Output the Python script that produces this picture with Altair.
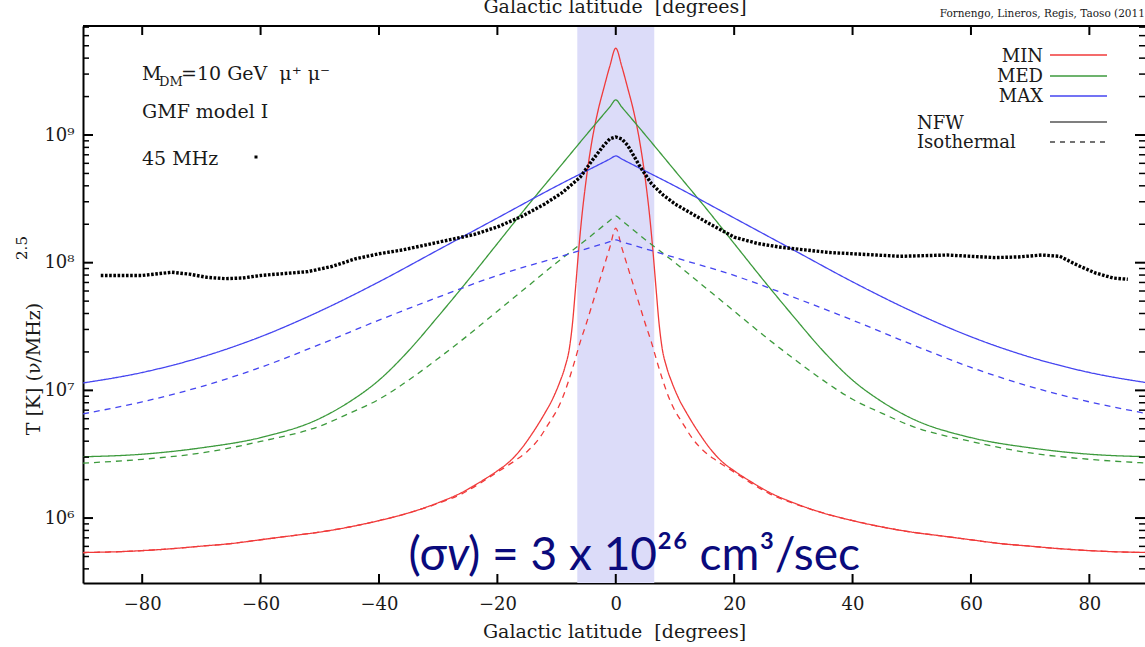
import altair as alt
import pandas as pd

# ---------------- data ----------------
# symmetric model curves: b >= 0 side, values are log10(T)
b_min_nfw = [0, 1, 2, 3, 4, 5, 5.8, 6.3, 6.8, 7.3, 7.8, 8.6, 9.5, 10.7, 12, 14, 16, 18, 20, 23, 26, 30,
             35, 40, 45, 50, 55, 60, 65, 70, 75, 80, 85, 90]
l_min_nfw = [9.68, 9.54, 9.37, 9.19, 8.96, 8.65, 8.33, 8.08, 7.80, 7.53, 7.34, 7.18, 7.06, 6.93, 6.82, 6.67,
             6.54, 6.44, 6.37, 6.28, 6.20, 6.12, 6.04, 5.98, 5.93, 5.89, 5.86, 5.83, 5.80, 5.78, 5.76, 5.745,
             5.735, 5.73]
b_min_iso = [0, 1, 2, 3, 4, 5, 6, 7, 8, 9, 10, 11.2, 13, 15, 17, 20, 23, 26, 30, 35, 40, 45, 50, 55, 60,
             65, 70, 75, 80, 85, 90]
l_min_iso = [8.27, 8.12, 7.97, 7.82, 7.67, 7.52, 7.38, 7.22, 7.07, 6.94, 6.84, 6.75, 6.62, 6.52, 6.45, 6.36,
             6.27, 6.19, 6.115, 6.04, 5.98, 5.93, 5.89, 5.86, 5.83, 5.80, 5.78, 5.76, 5.745, 5.735, 5.73]
b_med = [0, 1, 5, 10, 15, 20, 25, 30, 35, 40, 45, 50, 60, 70, 80, 90]
l_med_nfw = [9.275, 9.22, 9.0, 8.72, 8.44, 8.15, 7.86, 7.58, 7.31, 7.08, 6.91, 6.78, 6.63, 6.55, 6.50, 6.48]
l_med_iso = [8.366, 8.33, 8.18, 8.0, 7.81, 7.62, 7.43, 7.25, 7.08, 6.93, 6.82, 6.72, 6.60, 6.51, 6.46, 6.43]
b_max = [0, 1, 10, 20, 30, 40, 50, 60, 70, 80, 90]
l_max_nfw = [8.836, 8.812, 8.60, 8.35, 8.10, 7.85, 7.62, 7.42, 7.26, 7.14, 7.058]
l_max_iso = [8.178, 8.164, 8.04, 7.90, 7.73, 7.55, 7.36, 7.18, 7.03, 6.91, 6.816]

# 45 MHz data
b_obs = [-87, -84, -80, -77, -75, -72, -69, -66, -63, -60, -56, -52, -48, -44, -40, -36, -32, -28, -24,
         -20, -16, -12, -9, -6, -4, -2, -1, 0, 1, 2, 4, 6, 8, 10, 13, 16, 20, 24, 28, 32, 36, 40, 44, 48,
         52, 56, 60, 64, 68, 72, 75, 78, 81, 84, 86.5]
l_obs = [7.90, 7.90, 7.90, 7.915, 7.925, 7.91, 7.885, 7.875, 7.88, 7.90, 7.915, 7.93, 7.97, 8.03, 8.07,
         8.10, 8.14, 8.18, 8.22, 8.28, 8.36, 8.46, 8.55, 8.67, 8.80, 8.92, 8.97, 8.985, 8.97, 8.92, 8.76,
         8.62, 8.53, 8.46, 8.38, 8.30, 8.20, 8.15, 8.12, 8.10, 8.08, 8.07, 8.06, 8.05, 8.055, 8.06, 8.05,
         8.04, 8.045, 8.06, 8.05, 7.98, 7.92, 7.88, 7.87]

band = [-6.5, 6.5]
x_ticks = [-80, -60, -40, -20, 0, 20, 40, 60, 80]
y_major = [1e6, 1e7, 1e8, 1e9]
y_minor = [m * 10 ** e for e in range(5, 10) for m in range(2, 10) if 3.1e5 <= m * 10 ** e <= 7.1e9]

models = ["MIN", "MED", "MAX"]
colors = ["#f03a3a", "#3c9a3c", "#4545f0"]

W, H = 1062, 557
XDOM = [-90, 89.4]
YDOM = [3.1e5, 7.14e9]
SERIF = "DejaVu Serif"
NB = "\u00a0"


def mirror(bs, ls):
    b = [-v for v in reversed(bs[1:])] + list(bs)
    l = list(reversed(ls[1:])) + list(ls)
    return b, l


rows = []
for model, prof, bs, ls in [("MIN", "NFW", b_min_nfw, l_min_nfw), ("MIN", "Isothermal", b_min_iso, l_min_iso),
                            ("MED", "NFW", b_med, l_med_nfw), ("MED", "Isothermal", b_med, l_med_iso),
                            ("MAX", "NFW", b_max, l_max_nfw), ("MAX", "Isothermal", b_max, l_max_iso)]:
    bb, ll = mirror(bs, ls)
    for i, (b, l) in enumerate(zip(bb, ll)):
        rows.append({"b": b, "T": 10 ** l, "model": model, "profile": prof, "order": i})
curves = pd.DataFrame(rows)
obs = pd.DataFrame({"b": b_obs, "T": [10 ** v for v in l_obs]})

xs = alt.Scale(domain=XDOM, nice=False, zero=False)
ys = alt.Scale(type="log", domain=YDOM, nice=False)

xenc = alt.X("b:Q", scale=xs,
             axis=alt.Axis(values=x_ticks, ticks=False, grid=False, domainColor="black", domainWidth=2,
                           labelFont=SERIF, labelFontSize=18, labelColor="#1a1a1a", labelPadding=12,
                           title="Galactic latitude" + NB + " [degrees]", titleFont=SERIF, titleFontSize=19,
                           titleFontWeight="normal", titleColor="#1a1a1a", titlePadding=9))
yenc = alt.Y("T:Q", scale=ys,
             axis=alt.Axis(values=y_major, ticks=False, grid=False, domainColor="black", domainWidth=2,
                           labelFont=SERIF, labelFontSize=18, labelColor="#1a1a1a", labelPadding=9,
                           labelExpr="datum.value >= 1e9 ? '10⁹' : datum.value >= 1e8 ? '10⁸' : datum.value >= 1e7 ? '10⁷' : '10⁶'",
                           title=None))

band_layer = alt.Chart(pd.DataFrame({"b": [band[0]], "b2": [band[1]]})).mark_rect(
    color="#dcdcf9").encode(x=alt.X("b:Q", scale=xs), x2="b2:Q", y=alt.value(0), y2=alt.value(H))

lines = alt.Chart(curves).mark_line(strokeWidth=1.3, clip=True, interpolate="monotone").encode(
    x=xenc, y=yenc,
    color=alt.Color("model:N", scale=alt.Scale(domain=models, range=colors), legend=None),
    strokeDash=alt.StrokeDash("profile:N", scale=alt.Scale(domain=["NFW", "Isothermal"], range=[[1, 0], [6, 5]]),
                              legend=None),
    order="order:Q")

obs_layer = alt.Chart(obs).mark_line(color="black", strokeWidth=3.4, strokeDash=[2.6, 1.6], clip=True).encode(
    x=alt.X("b:Q", scale=xs), y=alt.Y("T:Q", scale=ys))

# top frame line
top_frame = alt.Chart(pd.DataFrame({"a": [0]})).mark_rule(color="black", strokeWidth=2).encode(
    x=alt.value(0), x2=alt.value(W), y=alt.value(0))

# inward ticks
xt = pd.DataFrame({"b": x_ticks})
xt_bot = alt.Chart(xt).mark_rule(color="black", strokeWidth=2).encode(
    x=alt.X("b:Q", scale=xs), y=alt.value(H), y2=alt.value(H - 9))
xt_top = alt.Chart(xt).mark_rule(color="black", strokeWidth=2).encode(
    x=alt.X("b:Q", scale=xs), y=alt.value(0), y2=alt.value(9))
ymj = pd.DataFrame({"T": y_major})
ymn = pd.DataFrame({"T": y_minor})
yt_l = alt.Chart(ymj).mark_rule(color="black", strokeWidth=2).encode(
    y=alt.Y("T:Q", scale=ys), x=alt.value(0), x2=alt.value(10))
yt_r = alt.Chart(ymj).mark_rule(color="black", strokeWidth=2).encode(
    y=alt.Y("T:Q", scale=ys), x=alt.value(W - 10), x2=alt.value(W))
ym_l = alt.Chart(ymn).mark_rule(color="black", strokeWidth=1.5).encode(
    y=alt.Y("T:Q", scale=ys), x=alt.value(0), x2=alt.value(6))
ym_r = alt.Chart(ymn).mark_rule(color="black", strokeWidth=1.5).encode(
    y=alt.Y("T:Q", scale=ys), x=alt.value(W - 6), x2=alt.value(W))


def txt(s, x, y, size=19, align="left", baseline="alphabetic", font=SERIF, color="#1a1a1a", angle=0,
        style=None):
    kw = dict(align=align, baseline=baseline, font=font, fontSize=size, color=color)
    if angle:
        kw["angle"] = angle
    if style:
        kw["fontStyle"] = style
    return alt.Chart(pd.DataFrame({"t": [s]})).mark_text(**kw).encode(
        text="t:N", x=alt.value(x), y=alt.value(y))


def seg(x1, x2, y, color, dash=None, width=1.4):
    kw = dict(color=color, strokeWidth=width)
    if dash:
        kw["strokeDash"] = dash
    return alt.Chart(pd.DataFrame({"a": [0]})).mark_rule(**kw).encode(
        x=alt.value(x1), x2=alt.value(x2), y=alt.value(y))


NAVY = "#0a0a7c"
annots = [
    txt("M", 59, 54),
    txt("DM", 76, 60, size=13),
    txt("=10 GeV" + NB + NB + "μ⁺" + NB + "μ⁻", 98, 54),
    txt("GMF model I", 59, 92),
    txt("45 MHz", 59, 139),
    alt.Chart(pd.DataFrame({"a": [0]})).mark_point(shape="square", size=9, filled=True, color="black",
                                                   opacity=1).encode(x=alt.value(173), y=alt.value(131)),
    # legend
    txt("MIN", 960, 36, size=18, align="right"),
    txt("MED", 960, 56, size=18, align="right"),
    txt("MAX", 960, 76, size=18, align="right"),
    txt("NFW", 834, 103, size=18),
    txt("Isothermal", 834, 122, size=18),
    seg(967, 1024, 29, colors[0]),
    seg(967, 1024, 50, colors[1]),
    seg(967, 1024, 70, colors[2]),
    seg(967, 1024, 96, "#555555"),
    seg(967, 1024, 116, "#444444", dash=[5, 5]),
    # titles
    txt("T [K] (ν/MHz)", -49, 343, size=19, align="center", baseline="middle", angle=270),
    txt("2.5", -61, 222, size=15, align="center", baseline="middle", angle=270),
    txt("Galactic latitude" + NB + " [degrees]", 532, -13, size=19, align="center"),
    txt("Fornengo, Lineros, Regis, Taoso (2011)", 1066, -9, size=10.5, align="right"),
    # big annotation
    txt("(σ", 364, 544, size=46, align="right", font="Lato", color=NAVY),
    txt("v", 364, 544, size=46, align="left", font="Lato", color=NAVY, style="italic"),
    txt(") = 3 x 10²⁶ cm³/sec", 385, 544, size=46, align="left", font="Lato", color=NAVY),
]

chart = alt.layer(band_layer, lines, obs_layer, top_frame, xt_bot, xt_top, yt_l, yt_r, ym_l, ym_r,
                  *annots).properties(
    width=W, height=H,
    autosize=alt.AutoSizeParams(type="none"),
    padding={"left": 83, "top": 26, "right": 0, "bottom": 64},
    background="white",
).configure_view(stroke=None)

chart.save("out.html", embed_options={"renderer": "svg", "actions": False})
